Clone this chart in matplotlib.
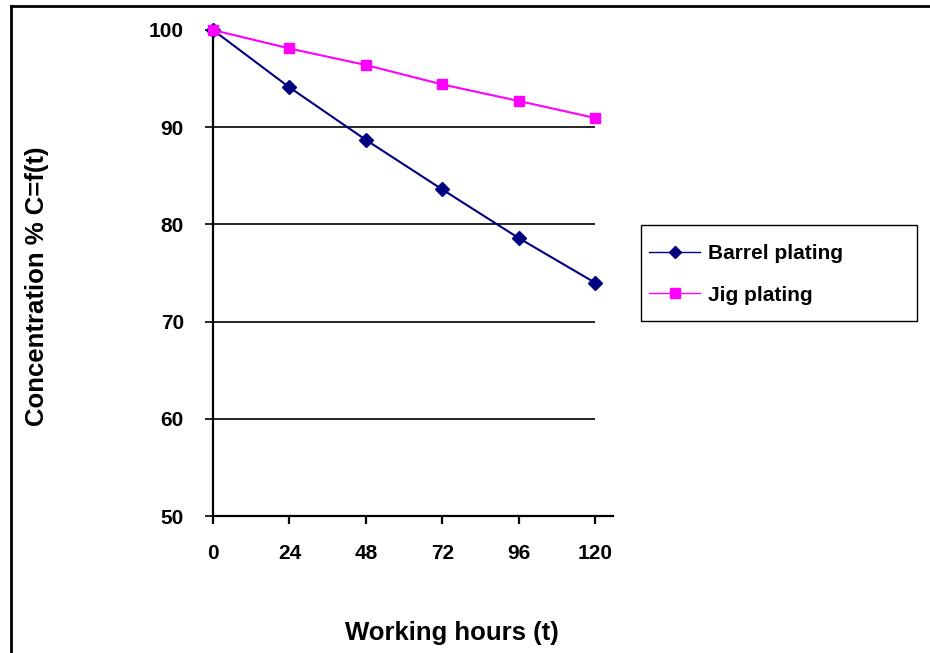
import matplotlib
matplotlib.use("Agg")
import matplotlib.pyplot as plt
from matplotlib.lines import Line2D
from matplotlib.patches import Rectangle

plt.rcParams['font.family'] = ['Liberation Sans', 'DejaVu Sans']
plt.rcParams['font.weight'] = 'bold'

hours = [0, 24, 48, 72, 96, 120]
barrel = [100, 94.1, 88.7, 83.6, 78.6, 74.0]
jig = [100, 98.1, 96.4, 94.4, 92.7, 90.95]
yticks = [50, 60, 70, 80, 90, 100]
gridvals = [60, 70, 80, 90]

W, H = 930, 653
fig = plt.figure(figsize=(W / 100, H / 100), dpi=100)
fig.patch.set_facecolor('white')

# axes spanning px 213..613 horizontally and 30..516 vertically
ax = fig.add_axes([213 / W, 1 - 516 / H, 400 / W, 486 / H])
ax.set_xlim(0, 125.65)
ax.set_ylim(50, 100)

for g in gridvals:
    ax.hlines(g, 0, 120, color='black', lw=1.2, zorder=1)

ax.plot(hours, barrel, color='#000080', lw=1.5, marker='D', ms=7,
        mfc='#000080', mec='#000080', label='Barrel plating', zorder=3, clip_on=False)
ax.plot(hours, jig, color='#FF00FF', lw=1.5, marker='s', ms=7,
        mfc='#FF00FF', mec='#FF00FF', label='Jig plating', zorder=4, clip_on=False)

for s in ['top', 'right']:
    ax.spines[s].set_visible(False)
for s in ['left', 'bottom']:
    ax.spines[s].set_linewidth(1.6)
    ax.spines[s].set_color('black')

ax.set_xticks(hours)
ax.set_xticklabels([str(h) for h in hours])
ax.set_yticks(yticks)
ax.set_yticklabels([str(v) for v in yticks])
ax.tick_params(axis='x', direction='out', length=6, width=1.6, pad=14, labelsize=15)
ax.tick_params(axis='y', direction='out', length=6, width=1.2, pad=15, labelsize=15)
for lab in ax.get_xticklabels() + ax.get_yticklabels():
    lab.set_fontweight('bold')

fig.text(452 / W, 1 - 633 / H, 'Working hours (t)', ha='center', va='center',
         fontsize=18.5, fontweight='bold')
fig.text(37 / W, 1 - 286 / H, 'Concentration % C=f(t)', ha='center', va='center',
         rotation=90, fontsize=18.5, fontweight='bold')

# legend frame
fig.add_artist(Rectangle((641 / W, 1 - 321 / H), 276 / W, 96 / H, transform=fig.transFigure,
                         facecolor='white', edgecolor='black', lw=1.0, zorder=5))
leg = fig.legend(loc='center left', bbox_to_anchor=(649 / W, 1 - 274.5 / H),
                 frameon=False, handlelength=2.45, handletextpad=0.38, borderpad=0,
                 labelspacing=1.08, borderaxespad=0, prop={'weight': 'bold', 'size': 15})
leg.set_zorder(6)
for h in leg.legend_handles:
    h.set_linewidth(1.0)
    h.set_markersize(6.5)

# figure border (top and left)
fig.add_artist(Line2D([11 / W, 1], [1 - 6 / H, 1 - 6 / H], color='black', lw=2,
                      transform=fig.transFigure))
fig.add_artist(Line2D([11 / W, 11 / W], [0, 1 - 6 / H], color='black', lw=2,
                      transform=fig.transFigure))

fig.savefig('out.png', dpi=100)
